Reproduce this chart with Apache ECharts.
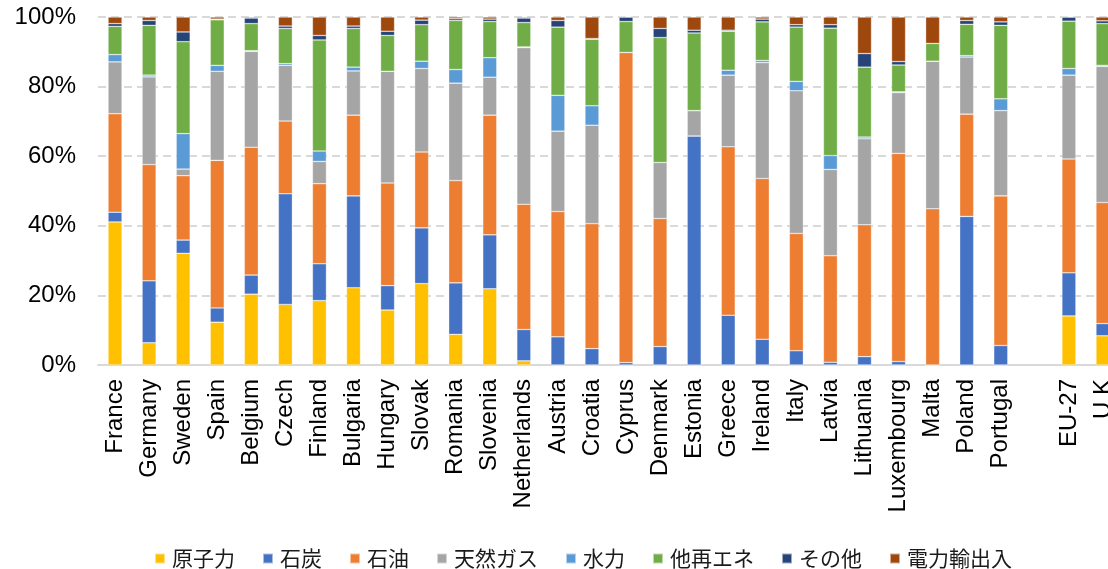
<!DOCTYPE html>
<html>
<head>
<meta charset="utf-8">
<script src="https://cdn.jsdelivr.net/npm/echarts@6/dist/echarts.min.js"></script>
<style>
html,body{margin:0;padding:0;background:#fff;overflow:hidden;width:1108px;height:569px;}
#chart{width:1130px;height:569px;}
</style>
</head>
<body>
<div id="chart"></div>
<script>
const categories = ['France','Germany','Sweden','Spain','Belgium','Czech','Finland','Bulgaria','Hungary','Slovak','Romania','Slovenia','Netherlands','Austria','Croatia','Cyprus','Denmark','Estonia','Greece','Ireland','Italy','Latvia','Lithuania','Luxembourg','Malta','Poland','Portugal','','EU-27','U K'];

const seriesNames = ['原子力','石炭','石油','天然ガス','水力','他再エネ','その他','電力輸出入'];

const nuclear = [41.1,6.4,32.1,12.3,20.4,17.4,18.5,22.2,15.8,23.4,8.8,21.9,1.2,0,0,0,0,0,0,0,0,0,0,0,0,0,0,null,14.1,8.4];
const coal    = [2.8,17.8,3.8,4.1,5.5,31.8,10.6,26.4,7.0,16.0,14.8,15.5,9.0,8.1,4.7,0.7,5.3,65.8,14.3,7.4,4.1,0.8,2.4,1.0,0,42.7,5.6,null,12.4,3.5];
const oil     = [28.3,33.4,18.5,42.4,36.8,20.9,23.0,23.2,29.5,21.8,29.4,34.4,36.0,36.0,35.9,89.1,36.8,0,48.4,46.2,33.7,30.6,37.9,59.8,44.9,29.4,43.0,null,32.7,34.8];
const gas     = [14.9,25.2,1.9,25.6,27.6,16.0,6.4,12.7,32.1,24.0,28.0,10.9,45.0,23.1,28.3,0,16.1,7.3,20.6,33.3,41.0,24.8,24.7,17.5,42.4,16.4,24.5,null,24.1,39.1];
const hydro   = [2.1,0.5,10.2,1.7,0.2,0.5,3.0,1.1,0,2.1,3.9,5.6,0.2,10.3,5.6,0,0,0,1.4,0.6,2.7,4.0,0.5,0.2,0,0.4,3.4,null,1.9,0.3];
const otherRE = [8.1,14.3,26.4,13.1,7.8,10.1,31.9,11.1,10.3,10.5,14.1,10.4,7.0,19.6,19.1,8.9,35.9,22.3,11.2,11.1,15.6,36.6,20.1,7.7,5.1,9.0,21.1,null,13.6,12.0];
const others  = [0.8,1.4,2.8,0.2,1.6,0.7,1.3,0.7,1.2,1.3,0.5,0.7,1.3,1.9,0.2,1.3,2.6,0.8,0.3,0.8,0.7,1.0,3.9,1.0,0,1.1,1.0,null,1.2,0.8];
const trade   = [1.9,1.0,4.3,0.6,0.3,2.6,5.3,2.6,4.1,0.9,0.5,0.6,0.3,1.0,6.2,0,3.3,3.8,3.8,0.6,2.2,2.2,10.5,12.8,7.6,1.0,1.4,null,0,1.1];

const yTicks = [0,20,40,60,80,100];

const colors = ['#FFC000','#4472C4','#ED7D31','#A5A5A5','#5B9BD5','#70AD47','#264478','#9E480E'];
const allData = [nuclear,coal,oil,gas,hydro,otherRE,others,trade];

// normalise each category to 100% (100% stacked chart)
const totals = categories.map((c,i)=>allData.reduce((s,a)=>s+(a[i]||0),0));
const pct = allData.map(a=>a.map((v,i)=> v==null ? null : (totals[i] ? v/totals[i]*100 : 0)));

const chart = echarts.init(document.getElementById('chart'));
chart.setOption({
  animation:false,
  backgroundColor:'#fff',
  color:colors,
  grid:{left:98, top:17, width:1022, height:348, containLabel:false},
  legend:{
    data:seriesNames,
    left:149, top:543,
    icon:'rect', itemWidth:10, itemHeight:10, itemGap:27,
    textStyle:{fontFamily:'"Noto Sans CJK JP"', fontSize:21, color:'#1a1a1a', padding:[0,0,0,2]}
  },
  xAxis:{
    type:'category',
    data:categories,
    axisLine:{show:true, lineStyle:{color:'#D9D9D9', width:2}},
    axisTick:{show:false},
    axisLabel:{interval:0, rotate:90, margin:14, fontFamily:'"Liberation Sans", Arial', fontSize:24, color:'#000'}
  },
  yAxis:{
    type:'value',
    min:yTicks[0], max:yTicks[yTicks.length-1], interval:20,
    axisLine:{show:false},
    axisTick:{show:false},
    axisLabel:{formatter:'{value}%', margin:22, fontFamily:'"Liberation Sans", Arial', fontSize:24, color:'#000'},
    splitLine:{show:true, lineStyle:{color:'#D9D9D9', width:2, type:[8,5]}}
  },
  series: seriesNames.map((n,k)=>({
    name:n,
    type:'bar',
    stack:'total',
    barWidth:14,
    data:pct[k],
    itemStyle:{color:colors[k], borderColor:'rgba(255,255,255,0.55)', borderWidth:0.6}
  }))
});
</script>
</body>
</html>
